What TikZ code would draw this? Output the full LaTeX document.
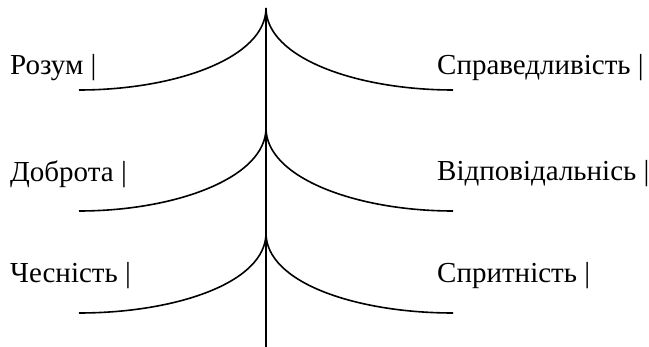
\documentclass[tikz,border=0pt]{standalone}
\usepackage{fontspec}
\setmainfont{Liberation Serif}
\usetikzlibrary{calc}
\begin{document}
\begin{tikzpicture}[x=1pt,y=-1pt,
  branch/.style={line width=1.6pt, line cap=butt},
  lbl/.style={anchor=base west, inner sep=0pt, font=\fontsize{29}{32}\selectfont}]
\useasboundingbox (0,0) rectangle (649,347);
% trunk
\coordinate (top) at (266,8);
\coordinate (bot) at (266,347);
\draw[branch] (top) -- (bot);
% apexes and ends
\foreach \n/\a/\e in {1/8/90, 2/128/211, 3/233/313}{
  \coordinate (a\n) at (266,\a);
  \coordinate (l\n) at (79,\e);
  \coordinate (r\n) at (453,\e);
  \draw[branch] (a\n) .. controls ($(a\n)+(0,50)$) and ($(l\n)+(96,0)$) .. (l\n);
  \draw[branch] (a\n) .. controls ($(a\n)+(0,50)$) and ($(r\n)+(-96,0)$) .. (r\n);
}
% labels
\node[lbl] (t1) at (10,75) {Розум |};
\node[lbl] (t2) at (437,75) {Справедливість |};
\node[lbl] (t3) at (10,182) {Доброта |};
\node[lbl] (t4) at (437,181) {Відповідальнісь |};
\node[lbl] (t5) at (10,283) {Чесність |};
\node[lbl] (t6) at (437,283) {Спритність |};
\end{tikzpicture}
\end{document}
